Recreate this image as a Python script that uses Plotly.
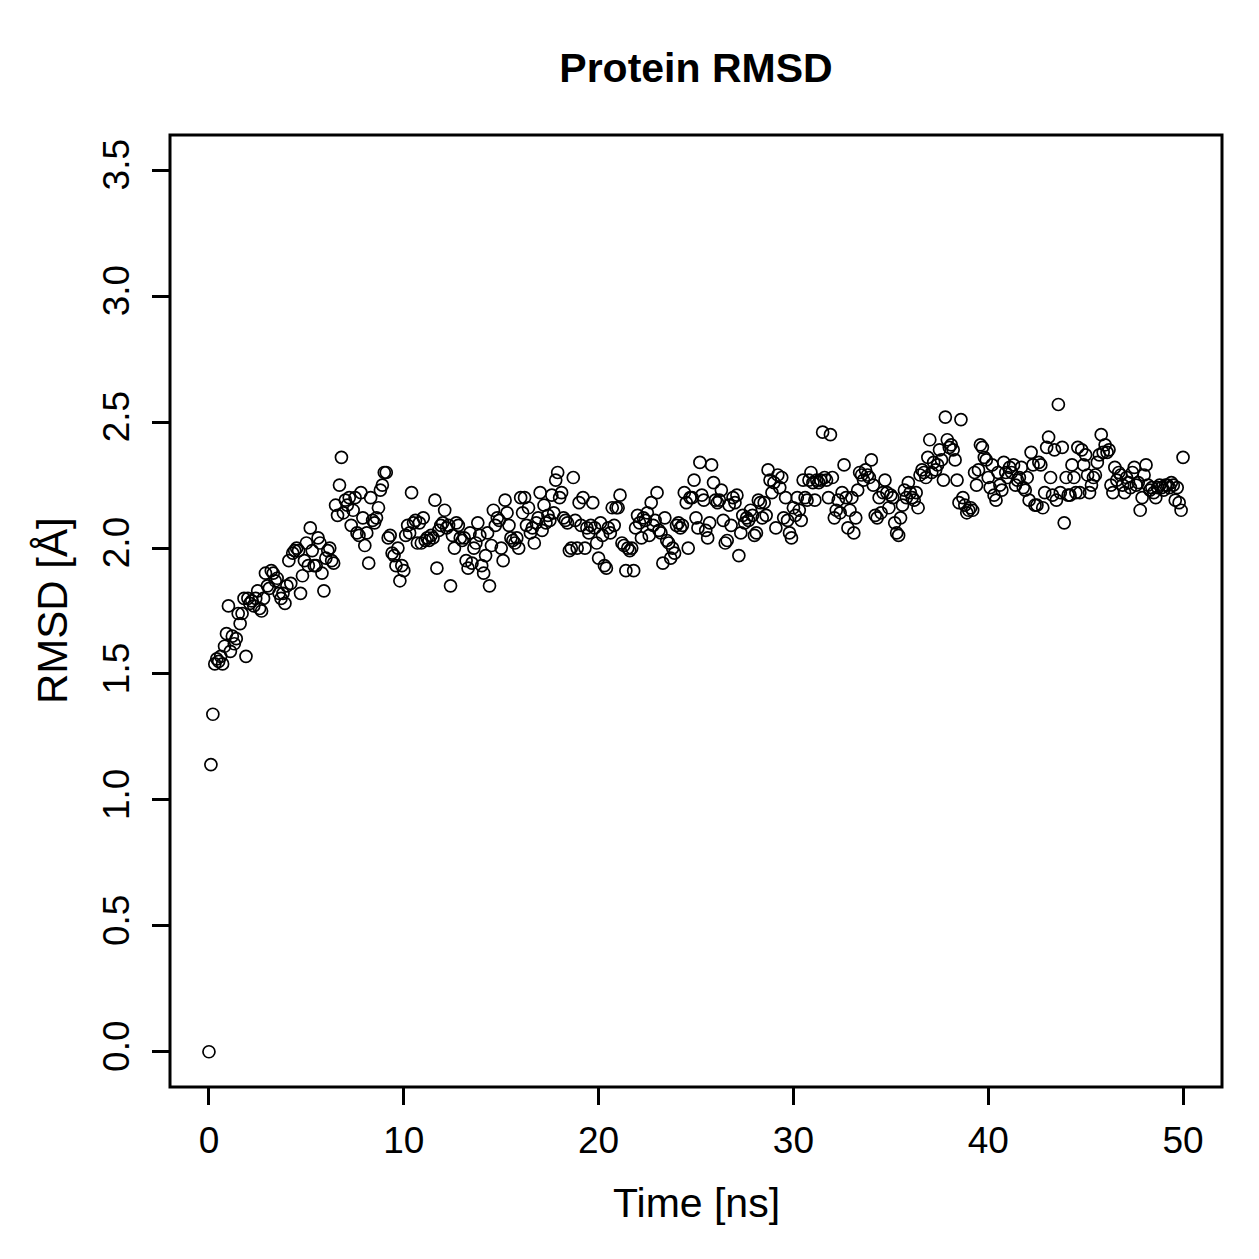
import plotly.graph_objects as go

# RMSD values (Angstrom), one row per ns of simulation, frames every 0.1 ns
rmsd = [
    0.00, 1.14, 1.34, 1.54, 1.56, 1.55, 1.57, 1.54, 1.61, 1.66,
    1.77, 1.59, 1.65, 1.62, 1.64, 1.74, 1.70, 1.74, 1.80, 1.57,
    1.80, 1.78, 1.79, 1.77, 1.80, 1.83, 1.76, 1.75, 1.80, 1.90,
    1.85, 1.84, 1.91, 1.90, 1.87, 1.88, 1.82, 1.80, 1.82, 1.78,
    1.85, 1.95, 1.86, 1.98, 1.99, 2.00, 1.99, 1.82, 1.89, 1.95,
    2.02, 1.93, 2.08, 1.99, 1.93, 1.93, 2.04, 2.02, 1.90, 1.83,
    1.96, 1.99, 2.00, 1.95, 1.94, 2.17, 2.13, 2.25, 2.36, 2.14,
    2.19, 2.17, 2.20, 2.09, 2.15, 2.20, 2.06, 2.05, 2.22, 2.12,
    2.01, 2.06, 1.94, 2.20, 2.11, 2.10, 2.12, 2.16, 2.23, 2.25,
    2.30, 2.30, 2.04, 2.05, 1.98, 1.97, 1.93, 2.00, 1.87, 1.93,
    1.91, 2.05, 2.09, 2.06, 2.22, 2.10, 2.11, 2.02, 2.10, 2.02,
    2.12, 2.03, 2.04, 2.03, 2.05, 2.04, 2.19, 1.92, 2.07, 2.09,
    2.10, 2.15, 2.08, 2.09, 1.85, 2.05, 2.00, 2.10, 2.09, 2.04,
    2.03, 2.04, 1.95, 1.92, 2.06, 1.94, 2.00, 2.02, 2.10, 2.05,
    1.93, 1.90, 1.97, 2.06, 1.85, 2.01, 2.15, 2.09, 2.12, 2.11,
    2.00, 1.95, 2.19, 2.14, 2.09, 2.04, 2.03, 2.02, 2.04, 2.00,
    2.20, 2.14, 2.20, 2.09, 2.16, 2.06, 2.08, 2.02, 2.10, 2.12,
    2.22, 2.07, 2.17, 2.10, 2.13, 2.11, 2.21, 2.14, 2.27, 2.30,
    2.20, 2.22, 2.12, 2.11, 2.10, 1.99, 2.00, 2.28, 2.11, 2.00,
    2.18, 2.09, 2.20, 2.00, 2.08, 2.06, 2.09, 2.18, 2.08, 2.02,
    1.96, 2.10, 2.05, 1.93, 1.92, 2.08, 2.06, 2.16, 2.09, 2.16,
    2.16, 2.21, 2.02, 2.01, 1.91, 2.00, 1.99, 2.00, 1.91, 2.08,
    2.13, 2.10, 2.04, 2.12, 2.11, 2.14, 2.05, 2.18, 2.09, 2.11,
    2.22, 2.07, 2.06, 1.94, 2.12, 2.03, 2.02, 1.96, 2.00, 1.98,
    2.09, 2.10, 2.08, 2.09, 2.22, 2.18, 2.00, 2.20, 2.20, 2.27,
    2.12, 2.08, 2.34, 2.21, 2.19, 2.07, 2.04, 2.10, 2.33, 2.26,
    2.19, 2.18, 2.19, 2.23, 2.11, 2.02, 2.03, 2.17, 2.09, 2.20,
    2.18, 2.21, 1.97, 2.06, 2.13, 2.10, 2.12, 2.11, 2.15, 2.13,
    2.05, 2.06, 2.19, 2.18, 2.12, 2.18, 2.13, 2.31, 2.27, 2.22,
    2.26, 2.08, 2.29, 2.24, 2.28, 2.12, 2.20, 2.11, 2.06, 2.04,
    2.16, 2.13, 2.20, 2.15, 2.11, 2.27, 2.20, 2.19, 2.27, 2.30,
    2.26, 2.19, 2.27, 2.26, 2.27, 2.46, 2.28, 2.27, 2.20, 2.45,
    2.28, 2.12, 2.15, 2.19, 2.14, 2.22, 2.33, 2.20, 2.08, 2.15,
    2.20, 2.06, 2.12, 2.23, 2.30, 2.29, 2.27, 2.31, 2.29, 2.28,
    2.35, 2.25, 2.13, 2.12, 2.20, 2.14, 2.22, 2.27, 2.22, 2.16,
    2.21, 2.20, 2.10, 2.06, 2.05, 2.12, 2.17, 2.23, 2.20, 2.26,
    2.22, 2.20, 2.19, 2.22, 2.16, 2.29, 2.31, 2.30, 2.28, 2.36,
    2.43, 2.30, 2.34, 2.31, 2.33, 2.39, 2.35, 2.27, 2.52, 2.43,
    2.40, 2.41, 2.39, 2.35, 2.27, 2.18, 2.51, 2.20, 2.17, 2.14,
    2.15, 2.16, 2.15, 2.30, 2.25, 2.31, 2.41, 2.40, 2.36, 2.35,
    2.28, 2.24, 2.33, 2.21, 2.19, 2.30, 2.25, 2.23, 2.34, 2.30,
    2.28, 2.32, 2.30, 2.33, 2.25, 2.27, 2.28, 2.32, 2.24, 2.23,
    2.28, 2.19, 2.38, 2.33, 2.17, 2.17, 2.34, 2.33, 2.16, 2.22,
    2.40, 2.44, 2.28, 2.21, 2.39, 2.19, 2.57, 2.22, 2.40, 2.10,
    2.28, 2.21, 2.21, 2.33, 2.28, 2.22, 2.40, 2.22, 2.39, 2.33,
    2.37, 2.29, 2.22, 2.25, 2.28, 2.29, 2.34, 2.37, 2.45, 2.38,
    2.41, 2.38, 2.39, 2.25, 2.22, 2.32, 2.27, 2.30, 2.29, 2.25,
    2.22, 2.28, 2.26, 2.24, 2.30, 2.32, 2.25, 2.26, 2.15, 2.20,
    2.29, 2.33, 2.25, 2.23, 2.24, 2.22, 2.20, 2.24, 2.25, 2.24,
    2.23, 2.25, 2.25, 2.24, 2.26, 2.25, 2.19, 2.24, 2.18, 2.15,
    2.36,
]
time_step_ns = 0.1
time_ns = [round(i * time_step_ns, 1) for i in range(len(rmsd))]

x_ticks = [0, 10, 20, 30, 40, 50]
y_ticks = [0.0, 0.5, 1.0, 1.5, 2.0, 2.5, 3.0, 3.5]
y_tick_labels = ["0.0", "0.5", "1.0", "1.5", "2.0", "2.5", "3.0", "3.5"]

FONT = "Liberation Sans, Arial, Helvetica, sans-serif"
W = H = 1259
L, R, T, B = 170, 37, 135, 172
PW, PH = W - L - R, H - T - B

fig = go.Figure()
fig.add_trace(go.Scatter(
    x=time_ns, y=rmsd, mode="markers",
    marker=dict(symbol="circle-open", size=12, color="black",
                line=dict(color="black", width=1.7)),
    showlegend=False, hoverinfo="x+y",
))

axis_common = dict(
    showgrid=False, zeroline=False, showline=False,
    ticks="outside", ticklen=17, tickwidth=2.8, tickcolor="black",
    tickfont=dict(family=FONT, size=37, color="black"),
)
fig.update_xaxes(range=[-2, 52], tickvals=x_ticks,
                 ticktext=[str(v) for v in x_ticks],
                 ticklabelstandoff=4, **axis_common)
fig.update_yaxes(range=[-0.14, 3.64], tickvals=y_ticks,
                 ticktext=y_tick_labels, tickangle=-90,
                 ticklabelstandoff=8, **axis_common)

fig.add_shape(type="rect", xref="paper", yref="paper", x0=0, y0=0, x1=1, y1=1,
              line=dict(color="black", width=3), layer="above")

fig.update_layout(
    width=W, height=H,
    margin=dict(l=L, r=R, t=T, b=B),
    paper_bgcolor="white", plot_bgcolor="white",
    title=dict(text="<b>Protein RMSD</b>", x=(L + PW / 2) / W,
               xanchor="center", xref="container", yref="container",
               y=1 - 68 / H, yanchor="middle",
               font=dict(family=FONT, size=41, color="black")),
    annotations=[
        dict(text="Time [ns]", xref="paper", yref="paper", x=0.5,
             y=-(1203 - 1087) / PH, xanchor="center", yanchor="middle",
             showarrow=False, font=dict(family=FONT, size=41, color="black")),
        dict(text="RMSD [Å]", xref="paper", yref="paper",
             x=-(170 - 52) / PW, y=0.5, xanchor="center", yanchor="middle",
             textangle=-90, showarrow=False,
             font=dict(family=FONT, size=42, color="black")),
    ],
)

fig.write_html("out.html")
